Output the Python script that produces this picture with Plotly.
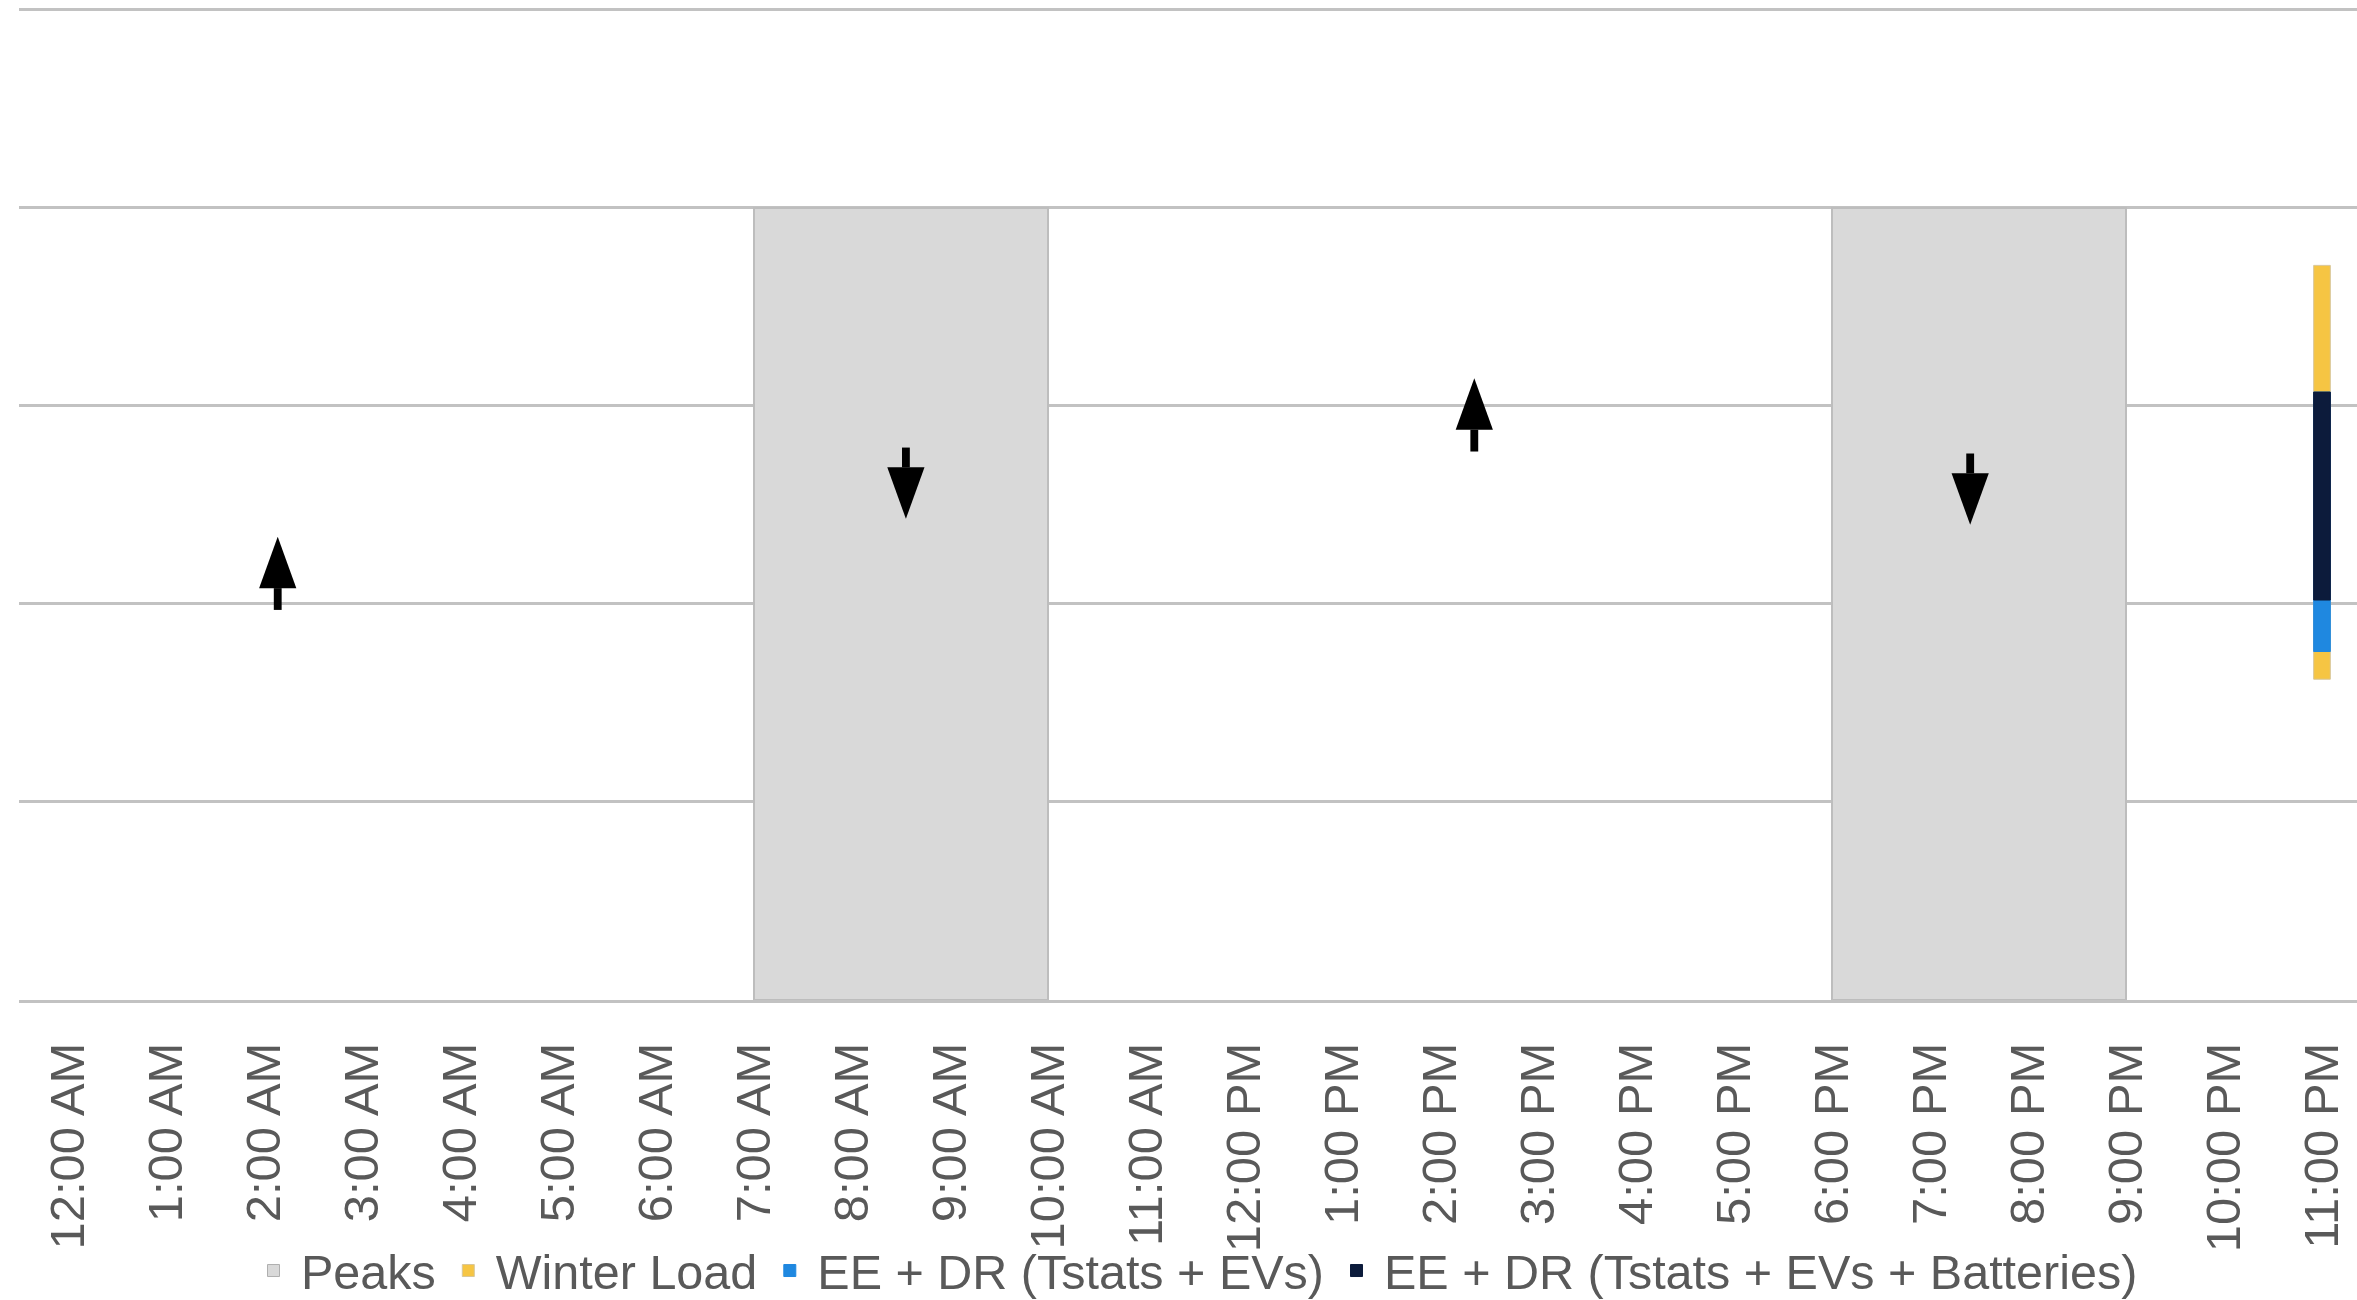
import plotly.graph_objects as go

# ---- data ----
hours = ["12:00 AM", "1:00 AM", "2:00 AM", "3:00 AM", "4:00 AM", "5:00 AM",
         "6:00 AM", "7:00 AM", "8:00 AM", "9:00 AM", "10:00 AM", "11:00 AM",
         "12:00 PM", "1:00 PM", "2:00 PM", "3:00 PM", "4:00 PM", "5:00 PM",
         "6:00 PM", "7:00 PM", "8:00 PM", "9:00 PM", "10:00 PM", "11:00 PM"]

peak_start = ["7:00 AM", "6:00 PM"]
peak_end = ["10:00 AM", "9:00 PM"]
peak_level = 4.0

bar_hour = ["11:00 PM"]
winter_load_low = [1.62]
winter_load_high = [3.71]
tstats_evs_low = [1.76]
tstats_evs_high = [3.07]
batteries_low = [2.02]
batteries_high = [3.07]

# arrows: position along hour axis (index units), tail value, tip value
arrow_pos = [2.14, 8.55, 14.35, 19.41]
arrow_tail = [1.97, 2.79, 2.77, 2.76]
arrow_tip = [2.34, 2.43, 3.14, 2.40]

# ---- styles ----
GRID = "#C2C2C2"
TEXT = "#595959"
FONT = "Liberation Sans, Arial, sans-serif"
PEAK_FILL = "#D9D9D9"
PEAK_LINE = "#BDBDBD"

fig = go.Figure()

# Peaks rectangles (legend entry supplied by a swatch-only trace)
px, py = [], []
for s, e in zip(peak_start, peak_end):
    xs, xe = hours.index(s), hours.index(e)
    px += [xs, xs, xe, xe, xs, None]
    py += [0, peak_level, peak_level, 0, 0, None]
fig.add_trace(go.Scatter(
    x=px, y=py, mode="lines", fill="toself", name="Peaks", showlegend=False,
    legendgroup="peaks", fillcolor=PEAK_FILL,
    line=dict(color=PEAK_LINE, width=2), hoverinfo="skip"))
fig.add_trace(go.Bar(
    x=[None], y=[None], name="Peaks", legendgroup="peaks",
    marker=dict(color=PEAK_FILL, line=dict(color="#AFAFAF", width=1))))

bx = [hours.index(h) for h in bar_hour]
bw = 0.17


def add_bar(name, lows, highs, color, outline):
    fig.add_trace(go.Bar(
        x=bx, y=[h - l for l, h in zip(lows, highs)], base=lows, name=name,
        width=bw, marker=dict(color=color, line=dict(color=outline, width=1))))


add_bar("Winter Load", winter_load_low, winter_load_high, "#F6C543", "#D8C79A")
add_bar("EE + DR (Tstats + EVs)", tstats_evs_low, tstats_evs_high, "#1F88E0", "#1F88E0")
add_bar("EE + DR (Tstats + EVs + Batteries)", batteries_low, batteries_high, "#0C1B3B", "#0C1B3B")

# arrows as shapes
head_len = 0.26
head_half = 0.19
shaft_half = 0.04
shapes = []
for x, t, p in zip(arrow_pos, arrow_tail, arrow_tip):
    d = 1 if p > t else -1
    b = p - d * head_len
    shapes.append(dict(type="rect", xref="x", yref="y",
                       x0=x - shaft_half, x1=x + shaft_half,
                       y0=min(t, b), y1=max(t, b),
                       fillcolor="black", line=dict(width=0), layer="above"))
    shapes.append(dict(type="path", xref="x", yref="y",
                       path=f"M {x - head_half},{b} L {x + head_half},{b} L {x},{p} Z",
                       fillcolor="black", line=dict(width=0), layer="above"))

W, H = 2357, 1300
L, R, T, B = 19, 0, 6, 300
y_top = 5.02
cat_px = 98.0
x_max = -0.5 + (W - L - R) / cat_px
plot_h = H - T - B

fig.update_layout(
    width=W, height=H,
    margin=dict(l=L, r=R, t=T, b=B, pad=0, autoexpand=False),
    paper_bgcolor="white", plot_bgcolor="white",
    barmode="overlay",
    shapes=shapes,
    font=dict(family=FONT, color=TEXT, size=48),
    showlegend=True,
    legend=dict(orientation="h", x=(246 - L) / (W - L - R), xanchor="left",
                y=-(1271 - (H - B)) / plot_h, yanchor="middle",
                font=dict(size=48.5, color=TEXT, family=FONT),
                bgcolor="rgba(0,0,0,0)", itemwidth=45, traceorder="normal"),
    xaxis=dict(range=[-0.5, x_max], tickmode="array",
               tickvals=list(range(len(hours))), ticktext=hours,
               tickangle=-90, showgrid=False, zeroline=False,
               showline=True, linecolor=GRID, linewidth=3,
               ticks="", ticklabelstandoff=20,
               tickfont=dict(size=49, color=TEXT, family=FONT)),
    yaxis=dict(range=[0, y_top], dtick=1, tick0=0, showgrid=True, gridcolor=GRID,
               gridwidth=3, zeroline=False, showticklabels=False,
               showline=False),
)

fig.write_html("out.html", config={"displayModeBar": False},
               post_script="document.body.style.margin='0';")
